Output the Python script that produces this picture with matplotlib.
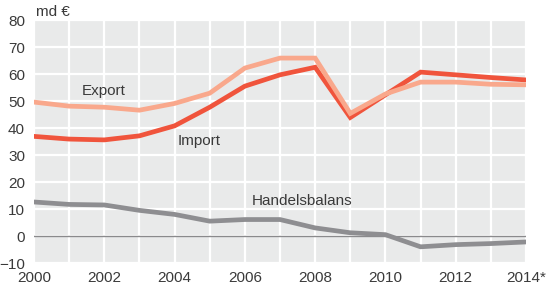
import matplotlib.pyplot as plt

years = list(range(2000, 2015))
export = [49.6, 48.1, 47.7, 46.6, 49.1, 52.9, 62.2, 65.9, 65.9, 45.4, 52.6, 57.0, 57.0, 56.2, 56.0]
imports = [36.9, 35.9, 35.6, 37.1, 40.8, 47.7, 55.5, 59.7, 62.5, 43.9, 52.3, 60.7, 59.7, 58.7, 57.8]
balance = [12.6, 11.7, 11.5, 9.5, 8.0, 5.5, 6.1, 6.1, 3.0, 1.2, 0.5, -4.0, -3.2, -2.8, -2.2]
xticks = [2000, 2002, 2004, 2006, 2008, 2010, 2012, 2014]
xlabels = ["2000", "2002", "2004", "2006", "2008", "2010", "2012", "2014*"]
yticks = [-10, 0, 10, 20, 30, 40, 50, 60, 70, 80]

plt.rcParams['font.family'] = ['Liberation Sans', 'DejaVu Sans']
txt = '#3a3a3a'
fs = 11

fig = plt.figure(figsize=(5.5, 2.86), dpi=100)
ax = fig.add_axes([0.0618, 0.0804, 0.8946, 0.8496])
ax.set_facecolor('#e9eaea')

# white grid, one cell per year and per 10 md
for y in years:
    ax.axvline(y, color='white', lw=1.6, zorder=1)
for v in yticks:
    ax.axhline(v, color='white', lw=1.6, zorder=1)
ax.axhline(0, color='#8a8a8c', lw=1.0, zorder=2)

ax.plot(years, balance, color='#8e8e91', lw=3.4, zorder=3, solid_joinstyle='miter')
ax.plot(years, imports, color='#f0543c', lw=3.4, zorder=3, solid_joinstyle='miter')
ax.plot(years, export, color='#f9a88c', lw=3.4, zorder=4, solid_joinstyle='miter')

ax.set_xlim(2000, 2014)
ax.set_ylim(-10, 80)
ax.set_xticks(xticks)
ax.set_xticklabels(xlabels)
ax.set_yticks(yticks)
ax.tick_params(length=0, labelsize=fs, colors=txt)
ax.tick_params(axis='y', pad=6.5)
ax.tick_params(axis='x', pad=6)
for s in ax.spines.values():
    s.set_visible(False)

ax.text(2001.35, 52.2, "Export", fontsize=fs, color=txt)
ax.text(2004.1, 33.6, "Import", fontsize=fs, color=txt)
ax.text(2006.2, 11.6, "Handelsbalans", fontsize=fs, color=txt)
fig.text(36 / 550, 1 - 12 / 286, "md €", fontsize=fs, color=txt, va='center')

fig.savefig('out.png', dpi=100)
